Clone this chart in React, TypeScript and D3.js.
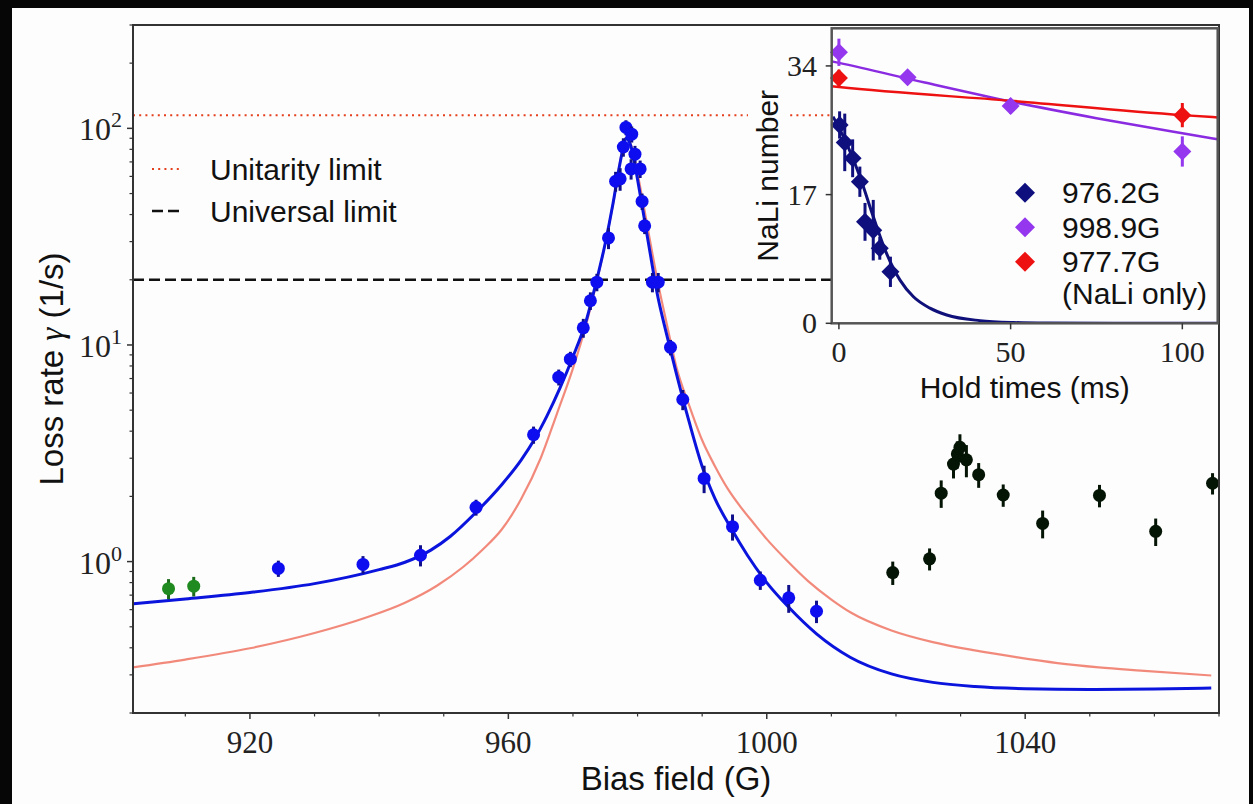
import React from "react";
import * as d3 from "d3";

// ---- main panel data: bias field (G) vs loss rate (1/s) ----
const xMajorTicks = [920, 960, 1000, 1040];
const xMinorTicks = [910, 930, 940, 950, 970, 980, 990, 1010, 1020, 1030, 1050, 1060, 1070];
const yMajorTicks = [1, 10, 100];
const yMajorExp = ["0", "1", "2"];
const yMinorTicks = [0.2, 0.3, 0.4, 0.5, 0.6, 0.7, 0.8, 0.9, 2, 3, 4, 5, 6, 7, 8, 9, 20, 30, 40, 50, 60, 70, 80, 90, 200, 300];

const unitarityLimit = 115;
const universalLimit = 20;
const legendLabels = ["Unitarity limit", "Universal limit"];

// [field, rate, error]
const greenPoints = [
  [907.4, 0.75, 0.08],
  [911.3, 0.77, 0.08],
];

const bluePoints = [
  [924.4, 0.93, 0.08],
  [937.5, 0.97, 0.09],
  [946.4, 1.07, 0.12],
  [955.0, 1.78, 0.15],
  [963.9, 3.85, 0.35],
  [967.8, 7.1, 0.6],
  [969.6, 8.6, 0.7],
  [971.6, 12.0, 1.2],
  [972.7, 16.0, 1.5],
  [973.7, 19.5, 1.8],
  [975.5, 31.2, 3.5],
  [976.6, 57, 6],
  [977.3, 58.5, 7],
  [977.8, 82, 8],
  [978.2, 101, 8],
  [979.1, 94, 8],
  [979.6, 76, 7],
  [979.0, 65, 7],
  [980.4, 65, 6],
  [980.7, 46, 4],
  [981.1, 35.5, 3],
  [982.3, 19.5, 2],
  [983.2, 19.5, 2],
  [985.1, 9.75, 0.8],
  [987.0, 5.6, 0.6],
  [990.3, 2.42, 0.35],
  [994.7, 1.45, 0.2],
  [999.0, 0.82, 0.08],
  [1003.4, 0.68, 0.1],
  [1007.7, 0.59, 0.07],
];

const blackPoints = [
  [1019.5, 0.89, 0.11],
  [1025.2, 1.03, 0.12],
  [1027.0, 2.07, 0.3],
  [1028.9, 2.82, 0.4],
  [1029.5, 3.14, 0.45],
  [1029.9, 3.37, 0.5],
  [1030.9, 2.95, 0.5],
  [1032.8, 2.52, 0.33],
  [1036.6, 2.03, 0.24],
  [1042.7, 1.5, 0.22],
  [1051.5, 2.02, 0.24],
  [1060.2, 1.38, 0.2],
  [1069.0, 2.3, 0.26],
];

// fit curves [field, rate]
const blueFit = [
  [901.9, 0.638], [910, 0.672], [920, 0.72], [930, 0.791], [940, 0.918], [944, 0.993],
  [948, 1.13], [951, 1.306], [955, 1.69], [959, 2.27], [962, 2.95], [964, 3.65],
  [966, 4.72], [968, 6.34], [970, 8.83], [972, 12.8], [973.5, 19.0], [975, 29.5],
  [976.2, 45], [977.2, 67], [977.8, 82], [978.2, 90], [978.6, 88], [979.2, 78],
  [980, 58], [981, 39], [982, 26], [983, 17.5], [984.5, 11.2], [986, 7.4],
  [988, 4.4], [990, 2.75], [992, 1.95], [994.5, 1.42], [997, 1.07], [1000, 0.8],
  [1003.4, 0.615], [1007.7, 0.464], [1012.9, 0.362], [1019.3, 0.303], [1025.7, 0.277],
  [1032.2, 0.265], [1040, 0.259], [1050, 0.257], [1060, 0.258], [1068.8, 0.261],
];

const redFit = [
  [901.9, 0.325], [910, 0.353], [920, 0.398], [930, 0.468], [938, 0.552], [944, 0.646],
  [949, 0.776], [953, 0.944], [956, 1.135], [959, 1.41], [962, 1.95], [965, 3.0],
  [967.5, 4.8], [970, 7.8], [972, 12.3], [973.5, 18.6], [975, 29.5], [976.2, 44.7],
  [977.2, 67.6], [977.8, 83], [978.2, 91], [978.6, 89], [979.2, 80], [980, 62],
  [981, 43], [982, 29.5], [983, 20.4], [984.5, 12.6], [986, 7.94], [988, 5.25],
  [990, 3.63], [992, 2.75], [994, 2.16], [996, 1.78], [998, 1.5], [1000, 1.27],
  [1003, 1.02], [1006.4, 0.813], [1010, 0.668], [1013, 0.582], [1019.3, 0.481],
  [1025.7, 0.425], [1032.2, 0.389], [1038.6, 0.362], [1045, 0.34], [1051.4, 0.325],
  [1057.9, 0.314], [1068.8, 0.298],
];

// ---- inset data: hold time (ms) vs NaLi number ----
const insetXTicks = [0, 50, 100];
const insetYTicks = [0, 17, 34];
const insetLegend = ["976.2G", "998.9G", "977.7G"];

// [time, number, error]
const navyPoints = [
  [0.2, 26.2, 1.8],
  [1.7, 23.9, 3.8],
  [4.0, 21.8, 2.5],
  [6.1, 18.7, 2.0],
  [7.6, 13.4, 2.5],
  [10.0, 12.3, 4.0],
  [11.9, 9.9, 1.5],
  [15.0, 6.8, 2.0],
];
const purplePoints = [
  [0, 35.8, 1.8],
  [20, 32.5, 0.6],
  [50, 28.7, 1.0],
  [100, 22.7, 2.0],
];
const redPoints = [
  [0, 32.4, 1.1],
  [100, 27.5, 1.6],
];

const navyFit = [
  [-1.7, 27.3], [2.2, 23.8], [6.1, 19.4], [10, 14.1], [13.9, 9.2], [17.8, 5.7],
  [21.7, 3.5], [26.5, 2.0], [31.4, 1.1], [41.1, 0.35], [50.8, 0.1], [60.5, 0.03],
  [80, 0], [110.3, 0],
];
const purpleFit = [[-2.1, 34.6], [0, 34.4], [25, 31.8], [50, 29.3], [75, 27.1], [100, 25.1], [110.3, 24.3]];
const redLineFit = [[-2.1, 31.3], [0, 31.2], [50, 29.4], [100, 27.5], [110.3, 27.2]];

const serif = "'Liberation Serif', 'DejaVu Serif', serif";
const sans = "'Liberation Sans', Arial, sans-serif";

const frame = { left: 133, right: 1219, top: 25, bottom: 713 };
const inset = { left: 831.7, right: 1217.7, top: 28.3, bottom: 323.3 };

const x = d3.scaleLinear().domain([901.9, 1070]).range([frame.left, frame.right]);
const y = d3.scaleLog().domain([0.2, 300]).range([frame.bottom, frame.top]);
const ix = d3.scaleLinear().domain([-2.1, 110.3]).range([inset.left, inset.right]);
const iy = d3.scaleLinear().domain([0, 38.97]).range([inset.bottom, inset.top]);

const mainLine = d3
  .line<number[]>()
  .x(d => x(d[0]))
  .y(d => y(d[1]))
  .curve(d3.curveMonotoneX);

const insetLine = d3
  .line<number[]>()
  .x(d => ix(d[0]))
  .y(d => iy(d[1]))
  .curve(d3.curveMonotoneX);

function diamond(cx: number, cy: number, r: number) {
  return `M${cx},${cy - r}L${cx + r},${cy}L${cx},${cy + r}L${cx - r},${cy}Z`;
}

function ErrorDots({ data, fill, bar }: { data: number[][]; fill: string; bar: string }) {
  return (
    <g>
      {data.map((d, i) => (
        <g key={i}>
          <line x1={x(d[0])} x2={x(d[0])} y1={y(d[1] - d[2])} y2={y(d[1] + d[2])} stroke={bar} strokeWidth={3} />
          <circle cx={x(d[0])} cy={y(d[1])} r={6.5} fill={fill} />
        </g>
      ))}
    </g>
  );
}

function ErrorDiamonds({ data, fill }: { data: number[][]; fill: string }) {
  return (
    <g>
      {data.map((d, i) => (
        <g key={i}>
          <line x1={ix(d[0])} x2={ix(d[0])} y1={iy(d[1] - d[2])} y2={iy(d[1] + d[2])} stroke={fill} strokeWidth={3} />
          <path d={diamond(ix(d[0]), iy(d[1]), 9)} fill={fill} />
        </g>
      ))}
    </g>
  );
}

export default function App() {
  const axisColor = "#333";
  return (
    <svg
      width={1253}
      height={804}
      style={{ position: "absolute", left: 0, top: 0, display: "block" }}
    >
      <defs>
        <clipPath id="mainClip">
          <rect x={frame.left} y={frame.top} width={frame.right - frame.left} height={frame.bottom - frame.top} />
        </clipPath>
        <clipPath id="insetClip">
          <rect x={inset.left} y={inset.top} width={inset.right - inset.left} height={inset.bottom - inset.top} />
        </clipPath>
      </defs>
      <rect x={0} y={0} width={1253} height={804} fill="#060606" />
      <rect x={12} y={8} width={1237} height={800} fill="#fdfdfd" />

      {/* reference limits */}
      <line x1={frame.left} x2={inset.left} y1={y(unitarityLimit)} y2={y(unitarityLimit)} stroke="#e4401e" strokeWidth={2} strokeDasharray="2 4.2" />
      <line x1={frame.left} x2={inset.left} y1={y(universalLimit)} y2={y(universalLimit)} stroke="#111" strokeWidth={2.5} strokeDasharray="11 5" />

      {/* fits */}
      <g clipPath="url(#mainClip)">
        <path d={mainLine(redFit) || ""} fill="none" stroke="#f28a7c" strokeWidth={2.2} />
        <path d={mainLine(blueFit) || ""} fill="none" stroke="#0a14dc" strokeWidth={3} />
      </g>

      <ErrorDots data={greenPoints} fill="#1f8a1f" bar="#1a6a1a" />
      <ErrorDots data={bluePoints} fill="#0d0df0" bar="#10108c" />
      <ErrorDots data={blackPoints} fill="#051505" bar="#051505" />

      {/* main frame */}
      <rect x={frame.left} y={frame.top} width={frame.right - frame.left} height={frame.bottom - frame.top} fill="none" stroke={axisColor} strokeWidth={2} />

      {/* x ticks */}
      {xMajorTicks.map(t => (
        <g key={t}>
          <line x1={x(t)} x2={x(t)} y1={frame.bottom} y2={frame.bottom + 6} stroke={axisColor} strokeWidth={1.5} />
          <text x={x(t)} y={753} textAnchor="middle" fontFamily={serif} fontSize={31} fill="#222">{t}</text>
        </g>
      ))}
      {xMinorTicks.map(t => (
        <line key={t} x1={x(t)} x2={x(t)} y1={frame.bottom} y2={frame.bottom + 3.5} stroke={axisColor} strokeWidth={1.2} />
      ))}
      <text x={(frame.left + frame.right) / 2} y={790} textAnchor="middle" fontFamily={sans} fontSize={33} fill="#111">Bias field (G)</text>

      {/* y ticks */}
      {yMajorTicks.map((t, i) => (
        <g key={t}>
          <line x1={frame.left - 6} x2={frame.left} y1={y(t)} y2={y(t)} stroke={axisColor} strokeWidth={1.5} />
          <text x={122} y={y(t) + 12} textAnchor="end" fontFamily={serif} fontSize={32} fill="#222">
            10<tspan dy={-13} fontSize={22}>{yMajorExp[i]}</tspan>
          </text>
        </g>
      ))}
      {yMinorTicks.map(t => (
        <line key={t} x1={frame.left - 3.5} x2={frame.left} y1={y(t)} y2={y(t)} stroke={axisColor} strokeWidth={1.2} />
      ))}
      <text transform={`translate(63, ${(frame.top + frame.bottom) / 2}) rotate(-90)`} textAnchor="middle" fontFamily={sans} fontSize={33} fill="#111">
        Loss rate <tspan fontFamily={serif} fontStyle="italic">γ</tspan> (1/s)
      </text>

      {/* main legend */}
      <line x1={152} x2={181} y1={169} y2={169} stroke="#e4401e" strokeWidth={2} strokeDasharray="2 4.2" />
      <text x={210} y={180} fontFamily={sans} fontSize={30} fill="#111">{legendLabels[0]}</text>
      <line x1={152} x2={181} y1={211} y2={211} stroke="#111" strokeWidth={2.5} strokeDasharray="11 5" />
      <text x={210} y={222} fontFamily={sans} fontSize={30} fill="#111">{legendLabels[1]}</text>

      {/* ---- inset ---- */}
      <rect x={inset.left} y={inset.top} width={inset.right - inset.left} height={inset.bottom - inset.top} fill="#fdfdfd" />
      <g clipPath="url(#insetClip)">
        <path d={insetLine(navyFit) || ""} fill="none" stroke="#10107a" strokeWidth={3} />
        <path d={insetLine(purpleFit) || ""} fill="none" stroke="#8a2be2" strokeWidth={2.5} />
        <path d={insetLine(redLineFit) || ""} fill="none" stroke="#ee1111" strokeWidth={2.5} />
      </g>
      <ErrorDiamonds data={navyPoints} fill="#0f0f7e" />
      <ErrorDiamonds data={purplePoints} fill="#9437ee" />
      <ErrorDiamonds data={redPoints} fill="#ee1111" />
      <rect x={inset.left} y={inset.top} width={inset.right - inset.left} height={inset.bottom - inset.top} fill="none" stroke="#555" strokeWidth={2.5} />

      {insetXTicks.map(t => (
        <g key={t}>
          <line x1={ix(t)} x2={ix(t)} y1={inset.bottom} y2={inset.bottom + 6} stroke={axisColor} strokeWidth={1.5} />
          <text x={ix(t)} y={362} textAnchor="middle" fontFamily={serif} fontSize={30} fill="#222">{t}</text>
        </g>
      ))}
      {insetYTicks.map(t => (
        <g key={t}>
          <line x1={inset.left - 6} x2={inset.left} y1={iy(t)} y2={iy(t)} stroke={axisColor} strokeWidth={1.5} />
          <text x={817} y={iy(t) + 10} textAnchor="end" fontFamily={serif} fontSize={30} fill="#222">{t}</text>
        </g>
      ))}
      <text x={(inset.left + inset.right) / 2} y={398} textAnchor="middle" fontFamily={sans} fontSize={30} fill="#111">Hold times (ms)</text>
      <rect x={748} y={82} width={42} height={188} fill="#fdfdfd" />
      <text transform={`translate(778, ${(inset.top + inset.bottom) / 2}) rotate(-90)`} textAnchor="middle" fontFamily={sans} fontSize={30} fill="#111">NaLi number</text>

      {/* inset legend */}
      {insetLegend.map((lab, i) => (
        <g key={lab}>
          <path d={diamond(1025, 192.7 + i * 34.5, 10)} fill={["#0f0f7e", "#9437ee", "#ee1111"][i]} />
          <text x={1062} y={203 + i * 34.5} fontFamily={sans} fontSize={30} fill="#111">{lab}</text>
        </g>
      ))}
      <text x={1062} y={304} fontFamily={sans} fontSize={30} fill="#111">(NaLi only)</text>
    </svg>
  );
}
